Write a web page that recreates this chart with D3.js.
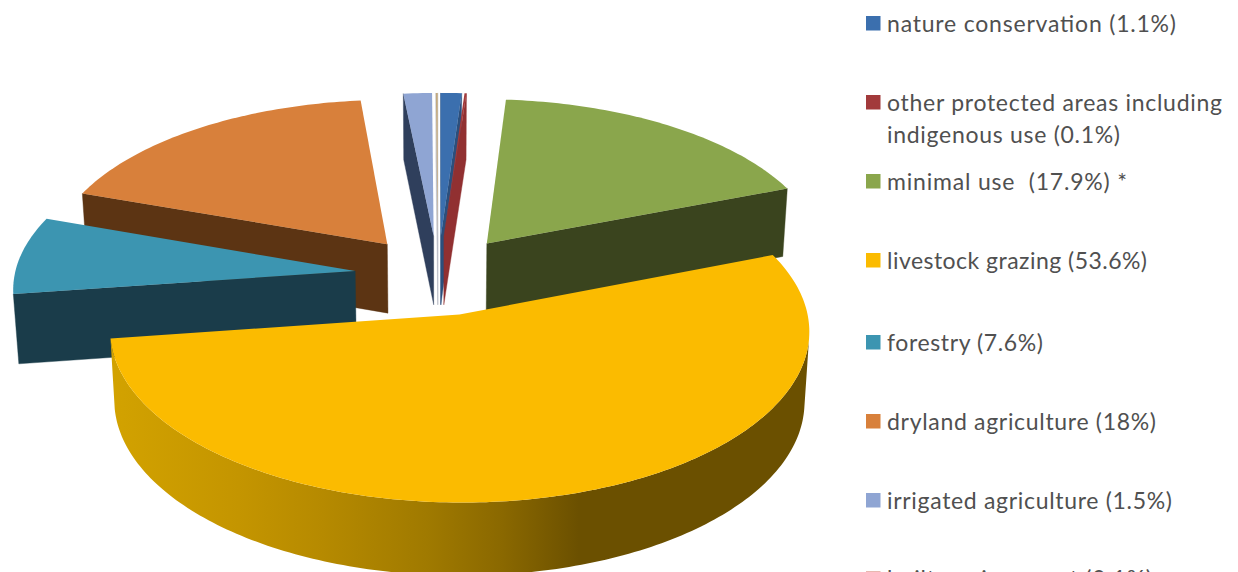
<!DOCTYPE html>
<html>
<head>
<meta charset="utf-8">
<title>Land use</title>
<script src="https://cdn.jsdelivr.net/npm/d3@7/dist/d3.min.js"></script>
<style>
  html, body { margin: 0; padding: 0; background: #fff; overflow: hidden; }
  svg { display: block; }
  text { font-family: Lato, "Open Sans", sans-serif; fill: #505050; }
</style>
</head>
<body>
<svg id="chart" width="1238" height="572"></svg>
<script>
// Land-use shares, clockwise from twelve o'clock.
const categories = ["nature conservation", "other protected areas", "minimal use", "livestock grazing",
                    "forestry", "dryland agriculture", "irrigated agriculture", "built environment"];
const shares     = [1.1, 0.1, 17.9, 53.6, 7.6, 18, 1.5, 0.1];
const topColors  = ["#3b6fae", "#a23a3b", "#8aa64c", "#fbbb00", "#3c95b1", "#d8803b", "#8fa5d3", "#c2a97f"];
const wallColors = ["#2c4f7c", "#913031", "#3a441e", "#6b5000", "#1a3c4a", "#5c3413", "#2f3f5c", "#b9bcc4"];

const legendLines = [
  ["nature conservation (1.1%)"],
  ["other protected areas including", "indigenous use (0.1%)"],
  ["minimal use  (17.9%) *"],
  ["livestock grazing (53.6%)"],
  ["forestry (7.6%)"],
  ["dryland agriculture (18%)"],
  ["irrigated agriculture (1.5%)"],
  ["built environment (0.1%)"]
];
const legendSwatches = ["#3b6fae", "#a23a3b", "#8aa64c", "#fbbb00", "#3c95b1", "#d8803b", "#8fa5d3", "#e8b8b0"];
const legendTops = [16, 95, 174, 253, 335, 414, 493, 571];
const legendLineWidths = [[289], [335, 233], [240], [260], [156], [269], [285], [265]];

// Rim shading for the large slice, left to right.
const rimStops = [[0, "#d2a200"], [0.18, "#c49500"], [0.3, "#b68a00"], [0.45, "#a07a00"], [0.56, "#8a6800"], [0.67, "#6b5000"], [1, "#6b5000"]];

const svg = d3.select("#chart");

// Perspective view of a flat disc: world units are pie radii, u to the right, v away from the viewer.
const view = { cx: 438, cy: 275, scaleX: 340.5, scaleY: 163, persp: 0.092, explode: 0.245, depth: 69.5, shrink: 0.987 };

function project(u, v, lower) {
  const p = 1 / (1 + view.persp * v);
  let x = view.cx + view.scaleX * u * p;
  let y = view.cy - view.scaleY * v * p;
  if (lower) {
    x = view.cx + (x - view.cx) * view.shrink;
    y += view.depth / (1 + 0.04 * v);
  }
  return [x, y];
}

const arcs = d3.pie().sort(null).value(d => d)(shares).map((a, i) => {
  const mid = (a.startAngle + a.endAngle) / 2;
  return { ...a, i, mid, ou: view.explode * Math.sin(mid), ov: view.explode * Math.cos(mid) };
});

const rimPoint = (a, theta, lower) => project(a.ou + Math.sin(theta), a.ov + Math.cos(theta), lower);
const apex = (a, lower) => project(a.ou, a.ov, lower);

function arcAngles(a) {
  const n = Math.max(2, Math.ceil((a.endAngle - a.startAngle) / (Math.PI / 180)));
  return d3.range(n + 1).map(k => a.startAngle + (a.endAngle - a.startAngle) * k / n);
}

// True for wall quads turned towards the viewer when the top outline runs clockwise.
const facing = q => d3.polygonArea(q) > 0;

const line = d3.line();

const defs = svg.append("defs");
const rimGrad = defs.append("linearGradient").attr("id", "rimShade")
  .attr("gradientUnits", "userSpaceOnUse").attr("x1", 114).attr("x2", 808).attr("y1", 0).attr("y2", 0);
rimGrad.selectAll("stop").data(rimStops).join("stop")
  .attr("offset", d => d[0]).attr("stop-color", d => d[1]);

const pieLayer = svg.append("g");

// Paint far slices first so nearer ones overlap them.
arcs.slice().sort((a, b) => b.ov - a.ov).forEach(a => {
  const g = pieLayer.append("g").attr("data-name", categories[a.i]);
  const wallFill = wallColors[a.i];

  const walls = [
    [apex(a, false), rimPoint(a, a.startAngle, false), rimPoint(a, a.startAngle, true), apex(a, true)],
    [rimPoint(a, a.endAngle, false), apex(a, false), apex(a, true), rimPoint(a, a.endAngle, true)]
  ];
  walls.filter(facing).forEach(q => {
    g.append("path").attr("d", line(q) + "Z").attr("fill", wallFill).attr("stroke", wallFill).attr("stroke-width", 0.4);
  });

  // Outer rim, one narrow quad per step, kept only where it faces the viewer.
  const angles = arcAngles(a);
  const rimFill = a.i === 3 ? "url(#rimShade)" : wallFill;
  const visible = d3.pairs(angles).filter(([t0, t1]) =>
    facing([rimPoint(a, t0, false), rimPoint(a, t1, false), rimPoint(a, t1, true), rimPoint(a, t0, true)]));
  if (visible.length) {
    const ts = [visible[0][0], ...visible.map(p => p[1])];
    const outline = [...ts.map(t => rimPoint(a, t, false)), ...ts.slice().reverse().map(t => rimPoint(a, t, true))];
    g.append("path").attr("d", line(outline) + "Z").attr("fill", rimFill);
  }

  const top = [apex(a, false), ...angles.map(t => rimPoint(a, t, false))];
  g.append("path").attr("d", line(top) + "Z").attr("fill", topColors[a.i]);
});

// Legend column on the right.
const legend = svg.append("g");
categories.forEach((c, i) => {
  const top = legendTops[i];
  legend.append("rect").attr("x", 866).attr("y", top).attr("width", 14.5).attr("height", 14.5)
    .attr("fill", legendSwatches[i]);
  legendLines[i].forEach((t, j) => {
    legend.append("text").attr("x", 887).attr("y", top + 16 + j * 32)
      .attr("font-size", 23).attr("textLength", legendLineWidths[i][j]).attr("lengthAdjust", "spacing")
      .style("white-space", "pre").text(t);
  });
});
</script>
</body>
</html>
